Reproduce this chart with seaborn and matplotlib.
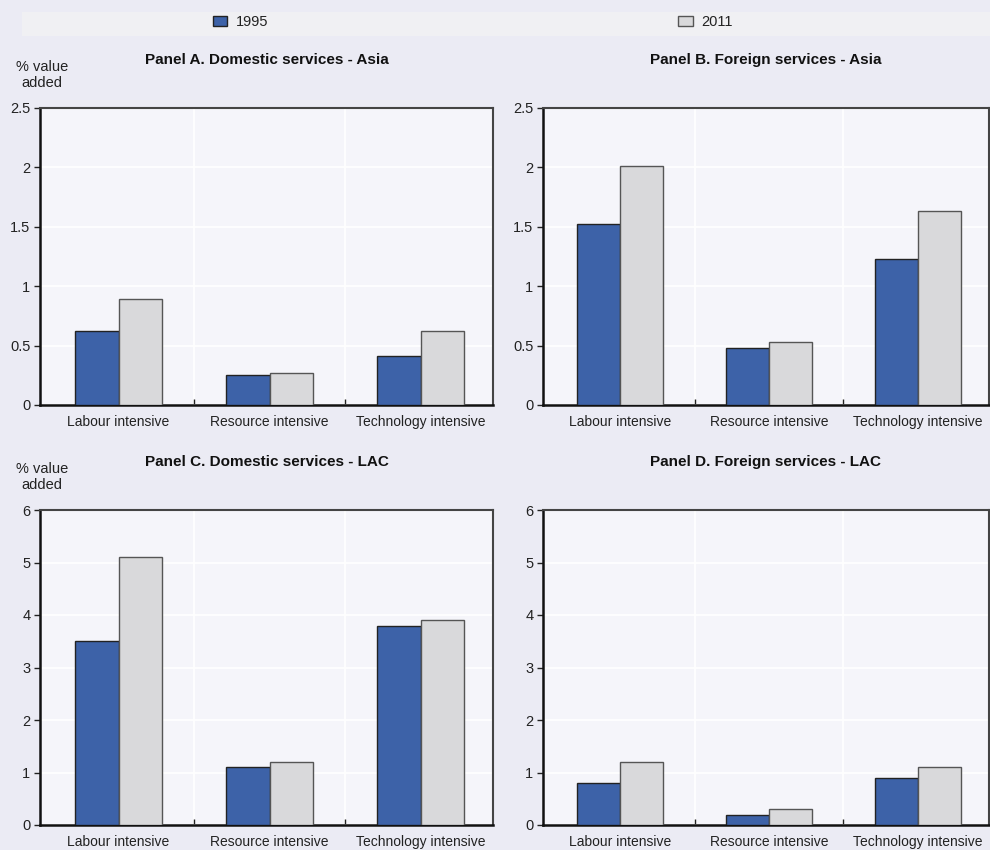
import pandas as pd
import matplotlib.pyplot as plt
import seaborn as sns
from matplotlib.ticker import FuncFormatter, FixedLocator

categories = ["Labour intensive", "Resource intensive", "Technology intensive"]
years = ["1995", "2011"]

panel_titles = [
    "Panel A. Domestic services - Asia",
    "Panel B. Foreign services - Asia",
    "Panel C. Domestic services - LAC",
    "Panel D. Foreign services - LAC",
]

a_1995 = [0.62, 0.25, 0.41]
a_2011 = [0.89, 0.27, 0.62]
b_1995 = [1.52, 0.48, 1.23]
b_2011 = [2.01, 0.53, 1.63]
c_1995 = [3.5, 1.1, 3.8]
c_2011 = [5.1, 1.2, 3.9]
d_1995 = [0.8, 0.2, 0.9]
d_2011 = [1.2, 0.3, 1.1]

panel_values = [(a_1995, a_2011), (b_1995, b_2011), (c_1995, c_2011), (d_1995, d_2011)]
y_limits = [2.5, 2.5, 6, 6]
y_steps = [0.5, 0.5, 1, 1]

colors = {"1995": "#3d62a8", "2011": "#d9d9db"}
fig_bg = "#ebebf4"
ax_bg = "#f5f5fa"

sns.set_theme(style="white")
plt.rcParams["font.family"] = ["Liberation Sans", "DejaVu Sans"]

fig = plt.figure(figsize=(9.9, 8.5), dpi=100)
fig.patch.set_facecolor(fig_bg)

W, H = 990, 850
boxes = [
    (40, 108, 493, 405),
    (543, 108, 989, 405),
    (40, 510, 493, 825),
    (543, 510, 989, 825),
]

fmt = FuncFormatter(lambda v, p: f"{v:g}")

handles = None
for i, (box, (v95, v11)) in enumerate(zip(boxes, panel_values)):
    x0, y0, x1, y1 = box
    ax = fig.add_axes([x0 / W, 1 - y1 / H, (x1 - x0) / W, (y1 - y0) / H])
    ax.set_facecolor(ax_bg)
    df = pd.DataFrame({
        "category": categories * 2,
        "year": ["1995"] * 3 + ["2011"] * 3,
        "value": v95 + v11,
    })
    sns.barplot(data=df, x="category", y="value", hue="year", hue_order=years,
                palette=colors, width=0.58, edgecolor="#222222", linewidth=1,
                saturation=1, ax=ax, legend=False, zorder=3)
    if handles is None:
        handles = [ax.containers[0].patches[0], ax.containers[1].patches[0]]
    # gray edge on 2011 bars
    for p in ax.containers[1].patches:
        p.set_edgecolor("#555555")

    top = y_limits[i]
    step = y_steps[i]
    ticks = [k * step for k in range(int(round(top / step)) + 1)]
    ax.set_ylim(0, top)
    ax.set_xlim(-0.52, 2.48)
    ax.yaxis.set_major_locator(FixedLocator(ticks))
    ax.yaxis.set_major_formatter(fmt)
    ax.xaxis.set_minor_locator(FixedLocator([0.5, 1.5]))
    ax.grid(axis="y", which="major", color="white", linewidth=1.2, zorder=0)
    ax.grid(axis="x", which="minor", color="white", linewidth=1.2, zorder=0)
    ax.set_axisbelow(True)
    ax.set_xlabel("")
    ax.set_ylabel("")
    ax.tick_params(axis="y", which="major", left=True, length=4, width=1,
                   color="#222222", labelsize=10.5, labelcolor="#222222", pad=3)
    ax.tick_params(axis="x", which="major", bottom=False, labelsize=10,
                   labelcolor="#222222", pad=1)
    ax.tick_params(axis="x", which="minor", bottom=True, direction="in",
                   length=4, width=1, color="#222222")
    for side in ["left", "bottom"]:
        ax.spines[side].set_color("#111111")
        ax.spines[side].set_linewidth(1.8)
    for side in ["top", "right"]:
        ax.spines[side].set_color("#444444")
        ax.spines[side].set_linewidth(1.5)
        ax.spines[side].set_visible(True)

    cx = ((x0 + x1) / 2) / W
    fig.text(cx, 1 - (y0 - 48) / H, panel_titles[i], ha="center", va="center",
             fontsize=11, fontweight="bold", color="#111111")
    if i % 2 == 0:
        fig.text(42 / W, 1 - (y0 - 33) / H, "% value\nadded", ha="center",
                 va="center", multialignment="center", fontsize=10.5,
                 color="#222222", linespacing=1.15)

# legend band
band = plt.Rectangle((22 / W, 1 - 36 / H), (990 - 22) / W, 24 / H,
                     transform=fig.transFigure, facecolor="#f0f0f3",
                     edgecolor="none", zorder=0)
fig.patches.append(band)
fig.legend(handles, years, loc="center", bbox_to_anchor=(473 / W, 1 - 22 / H),
           ncol=2, frameon=False, fontsize=10.5, handlelength=1.0,
           handleheight=0.7, handletextpad=0.6, columnspacing=28.1,
           labelcolor="#222222")

fig.savefig("out.png", dpi=100, facecolor=fig.get_facecolor())
